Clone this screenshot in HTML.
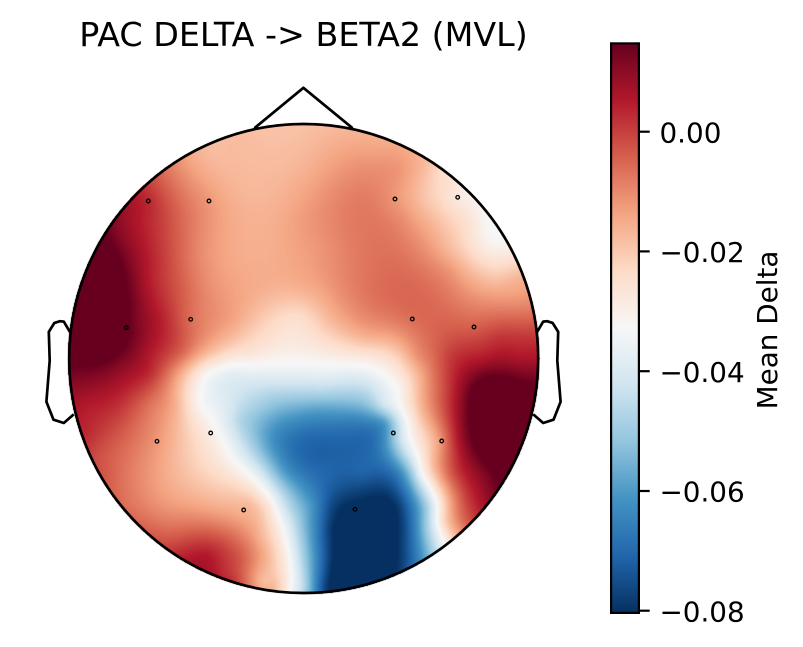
<!DOCTYPE html>
<html><head><meta charset="utf-8">
<style>
html,body{margin:0;padding:0;background:#fff;}
#wrap{position:relative;width:803px;height:647px;overflow:hidden;background:#fff;}
canvas,svg{position:absolute;left:0;top:0;}
text{font-family:"DejaVu Sans","Liberation Sans",sans-serif;fill:#000;}
</style></head><body>
<div id="wrap">
<canvas id="c" width="803" height="647"></canvas>
<svg width="803" height="647" viewBox="0 0 803 647">
<defs>
<linearGradient id="g" x1="0" y1="0" x2="0" y2="1">
<stop offset="0" stop-color="#67001f"/>
<stop offset="0.1" stop-color="#b2182b"/>
<stop offset="0.2" stop-color="#d6604d"/>
<stop offset="0.3" stop-color="#f4a582"/>
<stop offset="0.4" stop-color="#fddbc7"/>
<stop offset="0.5" stop-color="#f7f7f7"/>
<stop offset="0.6" stop-color="#d1e5f0"/>
<stop offset="0.7" stop-color="#92c5de"/>
<stop offset="0.8" stop-color="#4393c3"/>
<stop offset="0.9" stop-color="#2166ac"/>
<stop offset="1" stop-color="#053061"/>
</linearGradient>
</defs>
<text x="303.5" y="46" font-size="33.3" text-anchor="middle">PAC DELTA -&gt; BETA2 (MVL)</text>
<circle cx="303.7" cy="358.5" r="234.5" fill="none" stroke="#000" stroke-width="2.7"/>
<polyline points="254.4,128.2 303.4,87.8 352.6,128.2" fill="none" stroke="#000" stroke-width="2.7" stroke-linejoin="round"/>
<polyline points="69.9,331.9 63.8,321.6 60.0,321.2 54.4,322.9 48.8,331.9 49.7,360.6 46.4,401.8 53.5,419.7 63.8,423.0 73.7,414.4" fill="none" stroke="#000" stroke-width="2.7" stroke-linejoin="round"/>
<polyline points="537.1,331.9 543.2,321.6 547.0,321.2 552.6,322.9 558.2,331.9 557.3,360.6 560.6,401.8 553.5,419.7 543.2,423.0 533.3,414.4" fill="none" stroke="#000" stroke-width="2.7" stroke-linejoin="round"/>
<g fill="none" stroke="#000" stroke-width="1.3">
<circle cx="148.3" cy="201" r="1.8"/><circle cx="209" cy="201" r="1.8"/><circle cx="395" cy="199" r="1.8"/><circle cx="457.7" cy="197.3" r="1.8"/>
<circle cx="126.3" cy="327.7" r="1.8"/><circle cx="190.7" cy="319.3" r="1.8"/><circle cx="412.3" cy="319" r="1.8"/><circle cx="474" cy="327" r="1.8"/>
<circle cx="157" cy="441.3" r="1.8"/><circle cx="210.7" cy="433" r="1.8"/><circle cx="393.3" cy="433" r="1.8"/><circle cx="441.7" cy="441" r="1.8"/>
<circle cx="243.7" cy="510" r="1.8"/><circle cx="355" cy="509.3" r="1.8"/>
</g>
<rect x="611.1" y="43.4" width="27.8" height="569.5" fill="url(#g)" stroke="#000" stroke-width="2.2"/>
<g stroke="#000" stroke-width="2.2">
<line x1="640" y1="131.7" x2="649.7" y2="131.7"/>
<line x1="640" y1="251.4" x2="649.7" y2="251.4"/>
<line x1="640" y1="371.2" x2="649.7" y2="371.2"/>
<line x1="640" y1="491" x2="649.7" y2="491"/>
<line x1="640" y1="610.7" x2="649.7" y2="610.7"/>
</g>
<g font-size="27.8">
<text x="659.5" y="142.3">0.00</text>
<text x="659.5" y="262">−0.02</text>
<text x="659.5" y="381.8">−0.04</text>
<text x="659.5" y="501.6">−0.06</text>
<text x="659.5" y="621.3">−0.08</text>
</g>
<text font-size="27.8" text-anchor="middle" transform="translate(777,330) rotate(-90)">Mean Delta</text>
</svg>
</div>
<script>
(function(){
var P=[
[303,130,0.65],[381,144,0.69],[450,183,0.58],[490,227,0.5],[518,280,0.68],[530,338,0.86],[528,398,1.05],[510,454,1.1],[478,505,0.89],[450,533,0.62],[417,556,0.15],[381,572,-0.05],[343,582,-0.08],[303,586,0.38],[264,582,0.64],[225,572,0.86],[189,555,0.89],[157,533,0.8],[129,505,0.77],[106,472,0.81],[89,436,0.87],[79,398,0.92],[75,358,1.02],[79,318,1.12],[89,280,1.12],[106,244,1.02],[129,211,0.92],[157,183,0.82],[189,160,0.7],[225,144,0.66],
[216,147,0.65],[249,170,0.66],[303,165,0.67],[350,165,0.72],[400,170,0.72],[433,160,0.64],[443,172,0.58],
[166,187,0.8],[199,187,0.72],[233,187,0.67],[283,203,0.68],[148,201,0.88],[209,201,0.72],[333,200,0.74],[366,200,0.76],[395,199,0.72],[425,200,0.64],[457,197,0.55],
[143,220,0.89],[116,237,0.97],[99,260,1.08],[166,253,0.84],[199,253,0.74],[233,253,0.69],[266,253,0.68],[300,220,0.71],[350,220,0.76],[400,220,0.74],[433,220,0.66],[467,220,0.58],[490,240,0.51],[320,250,0.72],[370,250,0.77],[450,250,0.66],
[149,287,0.9],[183,287,0.8],[216,287,0.72],[266,287,0.68],[299,287,0.68],[333,290,0.72],[367,270,0.77],[400,293,0.79],[450,270,0.72],[450,303,0.77],[500,270,0.61],[517,293,0.7],
[100,300,1.12],[100,330,1.1],[126,327,1.02],[133,320,0.98],[159,320,0.9],[190,319,0.78],[233,320,0.7],[266,320,0.62],[299,320,0.58],[333,320,0.67],[367,337,0.68],[412,319,0.78],[433,337,0.79],[474,327,0.8],[500,337,0.86],[530,307,0.75],
[303,340,0.56],[250,335,0.62],
[110,360,1.0],[149,355,0.9],[183,355,0.78],[199,353,0.7],[216,355,0.62],[249,353,0.57],[283,353,0.53],[333,353,0.55],[367,356,0.56],[383,356,0.58],[400,356,0.63],[417,356,0.73],[433,356,0.78],[450,356,0.85],[483,356,0.89],[520,356,0.9],
[83,366,1.0],[116,366,0.96],[149,373,0.88],[176,373,0.72],[193,373,0.6],[209,373,0.5],[400,375,0.56],[417,375,0.66],[450,375,0.86],[483,389,1.05],[400,389,0.51],[417,389,0.65],[450,389,0.86],
[83,406,0.9],[116,406,0.87],[149,406,0.77],[176,406,0.68],[199,406,0.51],[408,406,0.56],[425,406,0.7],[455,406,0.9],[500,410,1.12],
[99,456,0.82],[133,456,0.76],[157,441,0.72],[176,456,0.66],[199,456,0.6],[427,439,0.62],[441,441,0.72],[453,439,0.86],[500,439,1.12],
[430,473,0.6],[450,473,0.8],[483,473,0.96],
[133,506,0.77],[166,506,0.72],[216,506,0.68],[244,510,0.66],[247,507,0.68],[443,523,0.6],[460,516,0.77],
[166,539,0.81],[209,556,0.9],[243,556,0.8],[260,540,0.68],[266,556,0.68],
[233,583,0.87],[273,586,0.68],
[233,373,0.45],[283,373,0.46],[333,373,0.46],[383,375,0.5],
[233,390,0.42],[270,390,0.37],[320,390,0.37],[370,390,0.38],
[226,406,0.44],[259,406,0.33],[293,406,0.27],[317,406,0.25],[350,406,0.26],[383,406,0.4],[397,406,0.48],
[205,420,0.53],[240,420,0.35],[300,423,0.17],[350,423,0.15],[385,423,0.2],
[213,440,0.54],[230,440,0.46],[247,440,0.35],[263,440,0.25],[280,440,0.16],[313,440,0.1],[347,440,0.1],[380,440,0.15],[397,440,0.35],[407,440,0.47],
[230,473,0.56],[247,473,0.5],[263,473,0.4],[280,473,0.25],[297,473,0.16],[330,473,0.1],[363,473,0.1],[397,473,0.15],[413,473,0.33],[420,473,0.48],
[270,507,0.56],[280,507,0.44],[297,507,0.3],[313,507,0.2],[330,507,0.05],[363,507,-0.02],[397,507,0.01],[413,507,0.16],[430,507,0.37],
[275,530,0.57],[287,530,0.47],[300,530,0.32],[313,530,0.2],[330,530,0.02],[370,530,-0.06],[405,530,0.05],[425,530,0.3],[440,530,0.5],
[280,557,0.58],[290,557,0.5],[300,557,0.37],[313,557,0.22],[323,557,0.1],[333,557,0.0],[380,557,-0.05],[403,557,0.03],[413,557,0.12],
[290,589,0.5],[300,589,0.4],[313,589,0.22],[323,589,0.05],[340,587,-0.05]
];
var cx=303.7, cy=358.5, S=235, R=235;
var n=P.length, m=n+3, lam=0.0012;
var U=new Float64Array(n), V=new Float64Array(n);
for(var i=0;i<n;i++){U[i]=(P[i][0]-cx)/S;V[i]=(P[i][1]-cy)/S;}
function phi(r2){return r2>1e-12?0.5*r2*Math.log(r2):0;}
var A=[];
for(var i=0;i<m;i++){A.push(new Float64Array(m+1));}
for(var i=0;i<n;i++){
  for(var j=0;j<n;j++){var du=U[i]-U[j],dv=V[i]-V[j];A[i][j]=phi(du*du+dv*dv);}
  A[i][i]+=lam;
  A[i][n]=1;A[i][n+1]=U[i];A[i][n+2]=V[i];
  A[n][i]=1;A[n+1][i]=U[i];A[n+2][i]=V[i];
  A[i][m]=P[i][2];
}
for(var k=0;k<m;k++){
  var p=k,mx=Math.abs(A[k][k]);
  for(var r=k+1;r<m;r++){var a=Math.abs(A[r][k]);if(a>mx){mx=a;p=r;}}
  if(p!==k){var t=A[k];A[k]=A[p];A[p]=t;}
  var d=A[k][k];
  if(Math.abs(d)<1e-14)continue;
  for(var r=k+1;r<m;r++){
    var f=A[r][k]/d;if(f===0)continue;
    var Ar=A[r],Ak=A[k];
    for(var c=k;c<=m;c++)Ar[c]-=f*Ak[c];
  }
}
var w=new Float64Array(m);
for(var k=m-1;k>=0;k--){
  var s=A[k][m];
  for(var c=k+1;c<m;c++)s-=A[k][c]*w[c];
  w[k]=Math.abs(A[k][k])<1e-14?0:s/A[k][k];
}
var stops=[[5,48,97],[33,102,172],[67,147,195],[146,197,222],[209,229,240],[247,247,247],[253,219,199],[244,165,130],[214,96,77],[178,24,43],[103,0,31]];
var cv=document.getElementById('c');var ctx=cv.getContext('2d');
var x0=Math.floor(cx-R-2),x1=Math.ceil(cx+R+2),y0=Math.floor(cy-R-2),y1=Math.ceil(cy+R+2);
var W=x1-x0,H=y1-y0;
var img=ctx.createImageData(W,H);var D=img.data;
for(var yy=0;yy<H;yy++){
  var py=y0+yy+0.5;
  for(var xx=0;xx<W;xx++){
    var px=x0+xx+0.5;
    var dx=px-cx,dy=py-cy;
    if(dx*dx+dy*dy>(R+0.8)*(R+0.8))continue;
    var u=dx/S,v=dy/S;
    var val=w[n]+w[n+1]*u+w[n+2]*v;
    for(var i=0;i<n;i++){var du=u-U[i],dv=v-V[i];var r2=du*du+dv*dv;if(r2>1e-12)val+=w[i]*0.5*r2*Math.log(r2);}
    if(val<0)val=0;if(val>1)val=1;
    var f=val*10,ii=Math.floor(f);if(ii>=10){ii=9;}var fr=f-ii;
    var a=stops[ii],b=stops[ii+1];
    var o=(yy*W+xx)*4;
    D[o]=a[0]+(b[0]-a[0])*fr;D[o+1]=a[1]+(b[1]-a[1])*fr;D[o+2]=a[2]+(b[2]-a[2])*fr;D[o+3]=255;
  }
}
ctx.putImageData(img,x0,y0);
})();
</script>
</body></html>
